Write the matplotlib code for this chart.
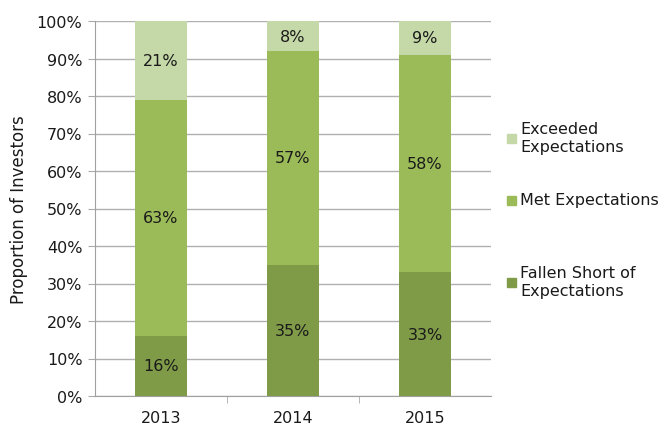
import matplotlib
import matplotlib.pyplot as plt
from matplotlib.patches import Rectangle

matplotlib.use('Agg')

years = ['2013', '2014', '2015']
fallen_short = [16, 35, 33]
met = [63, 57, 58]
exceeded = [21, 8, 9]

series_names = ['Fallen Short of\nExpectations', 'Met Expectations', 'Exceeded\nExpectations']
colors = ['#7f9b48', '#9bbb59', '#c5d8a7']

plt.rcParams['font.family'] = ['DejaVu Sans']
plt.rcParams['font.size'] = 11.5

fig = plt.figure(figsize=(6.66, 4.27), dpi=100)
ax = fig.add_axes([95 / 666, 30 / 427, 396 / 666, 375 / 427])

x = range(len(years))
bottom = [0] * len(years)
for vals, col in zip([fallen_short, met, exceeded], colors):
    bars = ax.bar(x, vals, 0.39, bottom=bottom, color=col, zorder=3)
    for b, v, y0 in zip(bars, vals, bottom):
        ax.text(b.get_x() + b.get_width() / 2, y0 + v / 2, f'{v}%',
                ha='center', va='center', fontsize=11.5, color='#1a1a1a', zorder=4)
    bottom = [a + b for a, b in zip(bottom, vals)]

ax.set_xlim(-0.5, 2.5)
ax.set_ylim(0, 100)
ax.set_yticks(range(0, 101, 10))
ax.set_yticklabels([f'{v}%' for v in range(0, 101, 10)])
ax.set_xticks(list(x))
ax.set_xticklabels(years)
ax.set_xticks([0.5, 1.5], minor=True)
ax.tick_params(axis='x', which='major', length=0, pad=10)
ax.tick_params(axis='x', which='minor', length=5, color='#aaaaaa')
ax.tick_params(axis='y', length=5, color='#aaaaaa', pad=4)
ax.tick_params(labelcolor='#1a1a1a')
ax.grid(axis='y', color='#b0b0b0', linewidth=1, zorder=0)
for s in ['top', 'right']:
    ax.spines[s].set_visible(False)
for s in ['left', 'bottom']:
    ax.spines[s].set_color('#a0a0a0')
ax.set_ylabel('Proportion of Investors', fontsize=12, labelpad=6, color='#1a1a1a')

# legend, drawn by hand to keep Excel-like spacing
leg_y = [283, 201, 139]
for name, col, yy in zip(series_names, colors, leg_y):
    fy = 1 - yy / 427
    fig.patches.append(Rectangle((507 / 666, fy - 4.5 / 427), 9 / 666, 9 / 427,
                                 transform=fig.transFigure, color=col))
    fig.text(520 / 666, fy, name, ha='left', va='center', fontsize=11.5,
             color='#1a1a1a', linespacing=1.25)

fig.savefig('out.png', dpi=100)
